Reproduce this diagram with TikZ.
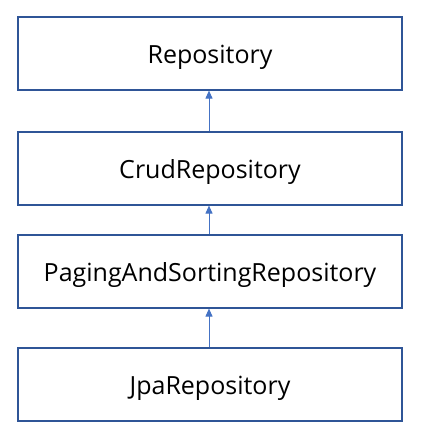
\documentclass[tikz,border=0pt]{standalone}
\usepackage{fontspec}
\setmainfont{Open Sans}
\usetikzlibrary{arrows.meta}
\definecolor{boxc}{HTML}{2F5597}
\definecolor{arrc}{HTML}{4472C4}
\begin{document}
\begin{tikzpicture}[x=1pt,y=1pt,
  box/.style={draw=boxc,line width=1.2pt,minimum width=384pt,minimum height=73pt,inner sep=0pt,
    text height=20pt,text depth=0pt,
    font=\fontsize{25}{30}\selectfont},
  inh/.style={draw=arrc,line width=1pt,-{Triangle[length=8pt,width=7pt]}}]
\useasboundingbox (0,0) rectangle (421,438);
\node[box] (r) at (210,384.5) {Repository};
\node[box] (c) at (210,269.5) {CrudRepository};
\node[box] (p) at (210,166.5) {PagingAndSortingRepository};
\node[box] (j) at (210,53.5) {JpaRepository};
\draw[inh] (c.north -| 209,0) -- (r.south -| 209,0);
\draw[inh] (p.north -| 209,0) -- (c.south -| 209,0);
\draw[inh] (j.north -| 209,0) -- (p.south -| 209,0);
\end{tikzpicture}
\end{document}
